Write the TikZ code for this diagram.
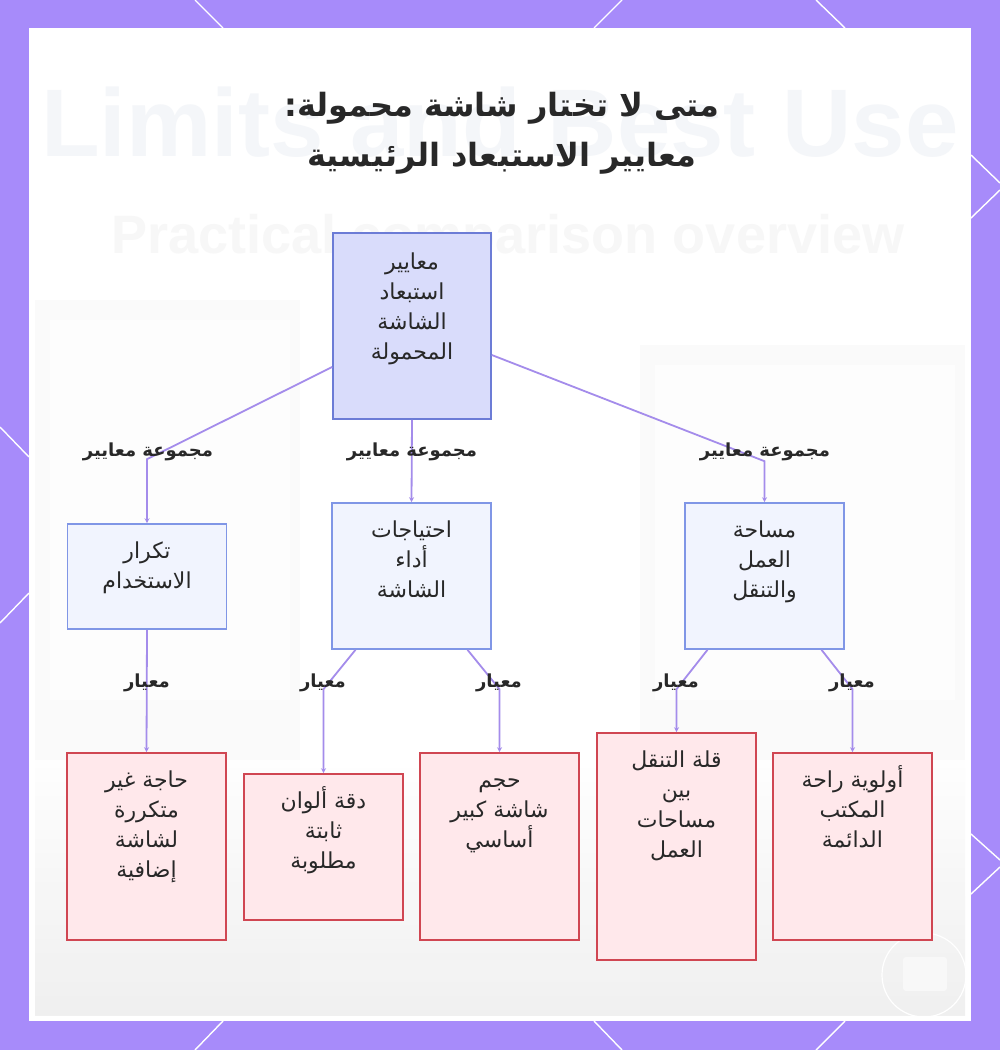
\documentclass[tikz,border=0pt]{standalone}
\usepackage{fontspec}
\usetikzlibrary{arrows.meta,calc}
\TeXXeTstate=1
\setmainfont{DejaVu Sans}
\newfontfamily\arabicfont[Script=Arabic]{DejaVu Sans}
\newfontfamily\bgfont{Liberation Sans}
\newcommand{\AR}[1]{\beginR #1\endR}
\newcommand{\boxtext}[3]{\parbox[c][#1][t]{150pt}{\centering\arabicfont\fontsize{22}{30}\selectfont\rule{0pt}{#2}#3\par}}
\definecolor{frame}{RGB}{167,139,250}
\definecolor{edgecol}{RGB}{164,140,235}
\definecolor{rootfill}{RGB}{217,220,251}
\definecolor{rootline}{RGB}{108,124,214}
\definecolor{catfill}{RGB}{241,244,254}
\definecolor{catline}{RGB}{128,150,230}
\definecolor{leaffill}{RGB}{255,232,235}
\definecolor{leafline}{RGB}{208,70,82}
\definecolor{txt}{RGB}{40,40,40}
\definecolor{bgtext}{RGB}{244,246,249}
\tikzset{
  rootbox/.style={draw=rootline, fill=rootfill, line width=1.6pt, inner sep=0pt, minimum width=158pt, text=txt},
  catbox/.style={draw=catline, fill=catfill, line width=1.6pt, inner sep=0pt, minimum width=159pt, text=txt},
  leafbox/.style={draw=leafline, fill=leaffill, line width=1.6pt, inner sep=0pt, minimum width=159pt, text=txt},
  grp/.style={font=\arabicfont\bfseries\fontsize{18}{22}\selectfont, text=txt, inner sep=1pt},
  link/.style={draw=edgecol, line width=1.8pt, -{Stealth[length=5pt,width=5pt]}},
  hexline/.style={draw=white, line width=1.4pt}
}
\begin{document}
\begin{tikzpicture}[x=1pt,y=-1pt]
\useasboundingbox (0,0) rectangle (1000,1050);
% frame
\fill[frame] (0,0) rectangle (1000,1050);
\draw[hexline] (195,0) -- (223,28);
\draw[hexline] (622,0) -- (594,28);
\draw[hexline] (816,0) -- (845,28);
\draw[hexline] (195,1050) -- (223,1021);
\draw[hexline] (622,1050) -- (594,1021);
\draw[hexline] (816,1050) -- (845,1021);
\draw[hexline] (0,427) -- (29,457);
\draw[hexline] (0,623) -- (29,593);
\draw[hexline] (971,155) -- (1000,183);
\draw[hexline] (971,218) -- (1000,190);
\draw[hexline] (971,834) -- (1000,860);
\draw[hexline] (971,894) -- (1000,867);
% panel
\fill[white] (29,28) rectangle (971,1021);
% blurred background
\fill[black!2] (35,300) rectangle (300,1015);
\fill[black!2] (640,345) rectangle (965,1015);
\fill[white,opacity=0.7] (50,320) rectangle (290,700);
\fill[white,opacity=0.7] (655,365) rectangle (955,700);
\shade[top color=white, bottom color=black!7, opacity=0.8] (35,760) rectangle (965,1015);
\node[inner sep=0pt, text=bgtext, font=\bgfont\bfseries\fontsize{96}{100}\selectfont] (bgA) at (500,122) {Limits and Best Use};
\node[inner sep=0pt, text=black!3, font=\bgfont\bfseries\fontsize{54}{60}\selectfont] (bgB) at (508,240) {Practical comparison overview};
\draw[white, line width=1.2pt] (924,975) circle (42);
\fill[white,opacity=0.5, rounded corners=3pt] (903,957) rectangle (947,991);
% title
\node[align=center, text=txt, font=\arabicfont\bfseries\fontsize{32}{50}\selectfont] (title) at (502,133)
  {\AR{متى لا تختار شاشة محمولة:}\\\AR{معايير الاستبعاد الرئيسية}};
% nodes
\node[rootbox] (root) at (412,326) {\boxtext{186pt}{36pt}{\AR{معايير}\\\AR{استبعاد}\\\AR{الشاشة}\\\AR{المحمولة}}};
\node[catbox] (catL) at (147,576.5) {\boxtext{105pt}{34pt}{\AR{تكرار}\\\AR{الاستخدام}}};
\node[catbox] (catM) at (411.5,576) {\boxtext{146pt}{34pt}{\AR{احتياجات}\\\AR{أداء}\\\AR{الشاشة}}};
\node[catbox] (catR) at (764.5,576) {\boxtext{146pt}{34pt}{\AR{مساحة}\\\AR{العمل}\\\AR{والتنقل}}};
\node[leafbox] (L1) at (146.5,846.5) {\boxtext{187pt}{34pt}{\AR{حاجة غير}\\\AR{متكررة}\\\AR{لشاشة}\\\AR{إضافية}}};
\node[leafbox] (L2) at (323.5,847) {\boxtext{146pt}{34pt}{\AR{دقة ألوان}\\\AR{ثابتة}\\\AR{مطلوبة}}};
\node[leafbox] (L3) at (499.5,846.5) {\boxtext{187pt}{34pt}{\AR{حجم}\\\AR{شاشة كبير}\\\AR{أساسي}}};
\node[leafbox] (L4) at (676.5,846.5) {\boxtext{227pt}{34pt}{\AR{قلة التنقل}\\\AR{بين}\\\AR{مساحات}\\\AR{العمل}}};
\node[leafbox] (L5) at (852.5,846.5) {\boxtext{187pt}{34pt}{\AR{أولوية راحة}\\\AR{المكتب}\\\AR{الدائمة}}};
% connectors
\draw[link] ($(root.west)+(0,41)$) -- ($(catL.north)+(0,-64)$) -- (catL.north);
\draw[link] (root.south) -- (catM.north);
\draw[link] ($(root.east)+(0,29)$) -- ($(catR.north)+(0,-41)$) -- (catR.north);
\draw[link] (catL.south) -- (L1.north);
\draw[link] ($(catM.south)+(-56,0)$) -- ($(L2.north)+(0,-84)$) -- (L2.north);
\draw[link] ($(catM.south)+(56,0)$) -- ($(L3.north)+(0,-63)$) -- (L3.north);
\draw[link] ($(catR.south)+(-57,0)$) -- ($(L4.north)+(0,-43)$) -- (L4.north);
\draw[link] ($(catR.south)+(57,0)$) -- ($(L5.north)+(0,-63)$) -- (L5.north);
% labels
\node[grp] (g1) at (148,452) {\AR{مجموعة معايير}};
\node[grp] (g2) at (412,452) {\AR{مجموعة معايير}};
\node[grp] (g3) at (765,452) {\AR{مجموعة معايير}};
\node[grp] (c1) at (147,683) {\AR{معيار}};
\node[grp] (c2) at (323,683) {\AR{معيار}};
\node[grp] (c3) at (499,683) {\AR{معيار}};
\node[grp] (c4) at (676,683) {\AR{معيار}};
\node[grp] (c5) at (852,683) {\AR{معيار}};
\end{tikzpicture}
\end{document}
